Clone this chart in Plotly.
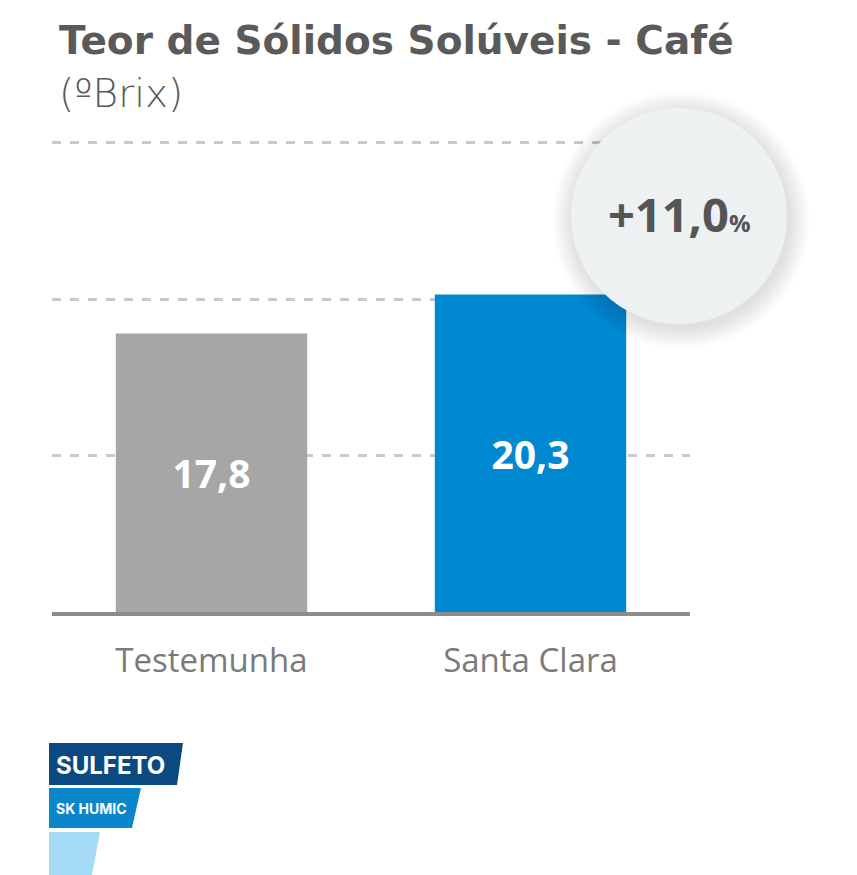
import plotly.graph_objects as go

# dados do gráfico
categorias = ["Testemunha", "Santa Clara"]
valores = [17.8, 20.3]
rotulos = ["17,8", "20,3"]
cores = ["#a6a6a6", "#0089d1"]
grade = [10, 20, 30]
ganho = "+11,0"

titulo = "Teor de Sólidos Solúveis - Café"
subtitulo = "(ºBrix)"

W, H = 857, 875
L, R, T, B = 52, 167, 138, 263
FONTE = "Open Sans"
FONTE_TIT = "DejaVu Sans"


# pixel -> paper
def px(x):
    return (x - L) / (W - L - R)


def py(y):
    return (H - B - y) / (H - T - B)


fig = go.Figure()

fig.add_trace(go.Bar(
    x=categorias,
    y=valores,
    text=rotulos,
    marker=dict(color=cores, line=dict(width=0)),
    width=0.6,
    textposition="inside",
    insidetextanchor="middle",
    textangle=0,
    textfont=dict(family=FONTE, size=39, color="white", weight="bold"),
    hoverinfo="skip",
))

fig.update_layout(
    width=W, height=H,
    margin=dict(l=L, r=R, t=T, b=B, pad=0),
    paper_bgcolor="white",
    plot_bgcolor="white",
    showlegend=False,
    font=dict(family=FONTE),
)

fig.update_xaxes(
    range=[-0.5, 1.5],
    showline=True, linecolor="#8c8c8c", linewidth=4,
    showgrid=False, zeroline=False,
    ticks="outside", ticklen=16, tickcolor="rgba(0,0,0,0)",
    tickfont=dict(family=FONTE, size=33, color="#7a7a7a"),
)

fig.update_yaxes(
    range=[0, 30.3],
    tickvals=grade,
    showticklabels=False,
    showgrid=True, gridcolor="#c9c9c9", gridwidth=2.5, griddash="dash",
    zeroline=False, showline=False,
)

# círculo com sombra suave
cx, cy, r = 679, 216, 108
for k in range(1, 16):
    rr = r + k * 1.4
    fig.add_shape(type="circle", xref="paper", yref="paper",
                  x0=px(cx + 2 - rr), x1=px(cx + 2 + rr),
                  y0=py(cy + 4 + rr), y1=py(cy + 4 - rr),
                  fillcolor="rgba(0,0,0,0.006)", line=dict(width=0))
fig.add_shape(type="circle", xref="paper", yref="paper",
              x0=px(cx - r), x1=px(cx + r), y0=py(cy + r), y1=py(cy - r),
              fillcolor="#eef1f2", line=dict(width=0))

fig.add_annotation(
    x=px(cx), y=py(cy - 2), xref="paper", yref="paper",
    xanchor="center", yanchor="middle", showarrow=False,
    text=ganho + '<span style="font-size:24px">%</span>',
    font=dict(family=FONTE, size=47, color="#555555", weight="bold"),
)

# título
fig.add_annotation(
    x=px(57), y=py(16), xref="paper", yref="paper",
    xanchor="left", yanchor="top", showarrow=False,
    text=titulo,
    font=dict(family=FONTE_TIT, size=39, color="#5a5a5a", weight="bold"),
)
fig.add_annotation(
    x=px(57), y=py(69), xref="paper", yref="paper",
    xanchor="left", yanchor="top", showarrow=False,
    text=subtitulo,
    font=dict(family=FONTE_TIT, size=39, color="#5a5a5a", weight=200),
)

# logotipo
faixas = [
    ("#0b4a80", [(49, 743), (183, 743), (177, 785), (49, 785)]),
    ("#0a87cb", [(49, 788), (141, 788), (132, 828), (49, 828)]),
    ("#a5dbf6", [(49, 832), (100, 832), (92, 875), (49, 875)]),
]
for cor, pts in faixas:
    caminho = "M " + " L ".join(f"{px(a):.5f},{py(b):.5f}" for a, b in pts) + " Z"
    fig.add_shape(type="path", xref="paper", yref="paper", path=caminho,
                  fillcolor=cor, line=dict(width=0))

fig.add_annotation(x=px(110), y=py(765), xref="paper", yref="paper",
                   xanchor="center", yanchor="middle",
                   showarrow=False, text="SULFETO",
                   font=dict(family="Inter", size=24, color="white", weight="bold"))
fig.add_annotation(x=px(91), y=py(808), xref="paper", yref="paper",
                   xanchor="center", yanchor="middle",
                   showarrow=False, text="SK HUMIC",
                   font=dict(family="Inter", size=14, color="white", weight="bold"))

fig.write_html("out.html", config={"displayModeBar": False},
               post_script="document.body.style.margin='0';")
